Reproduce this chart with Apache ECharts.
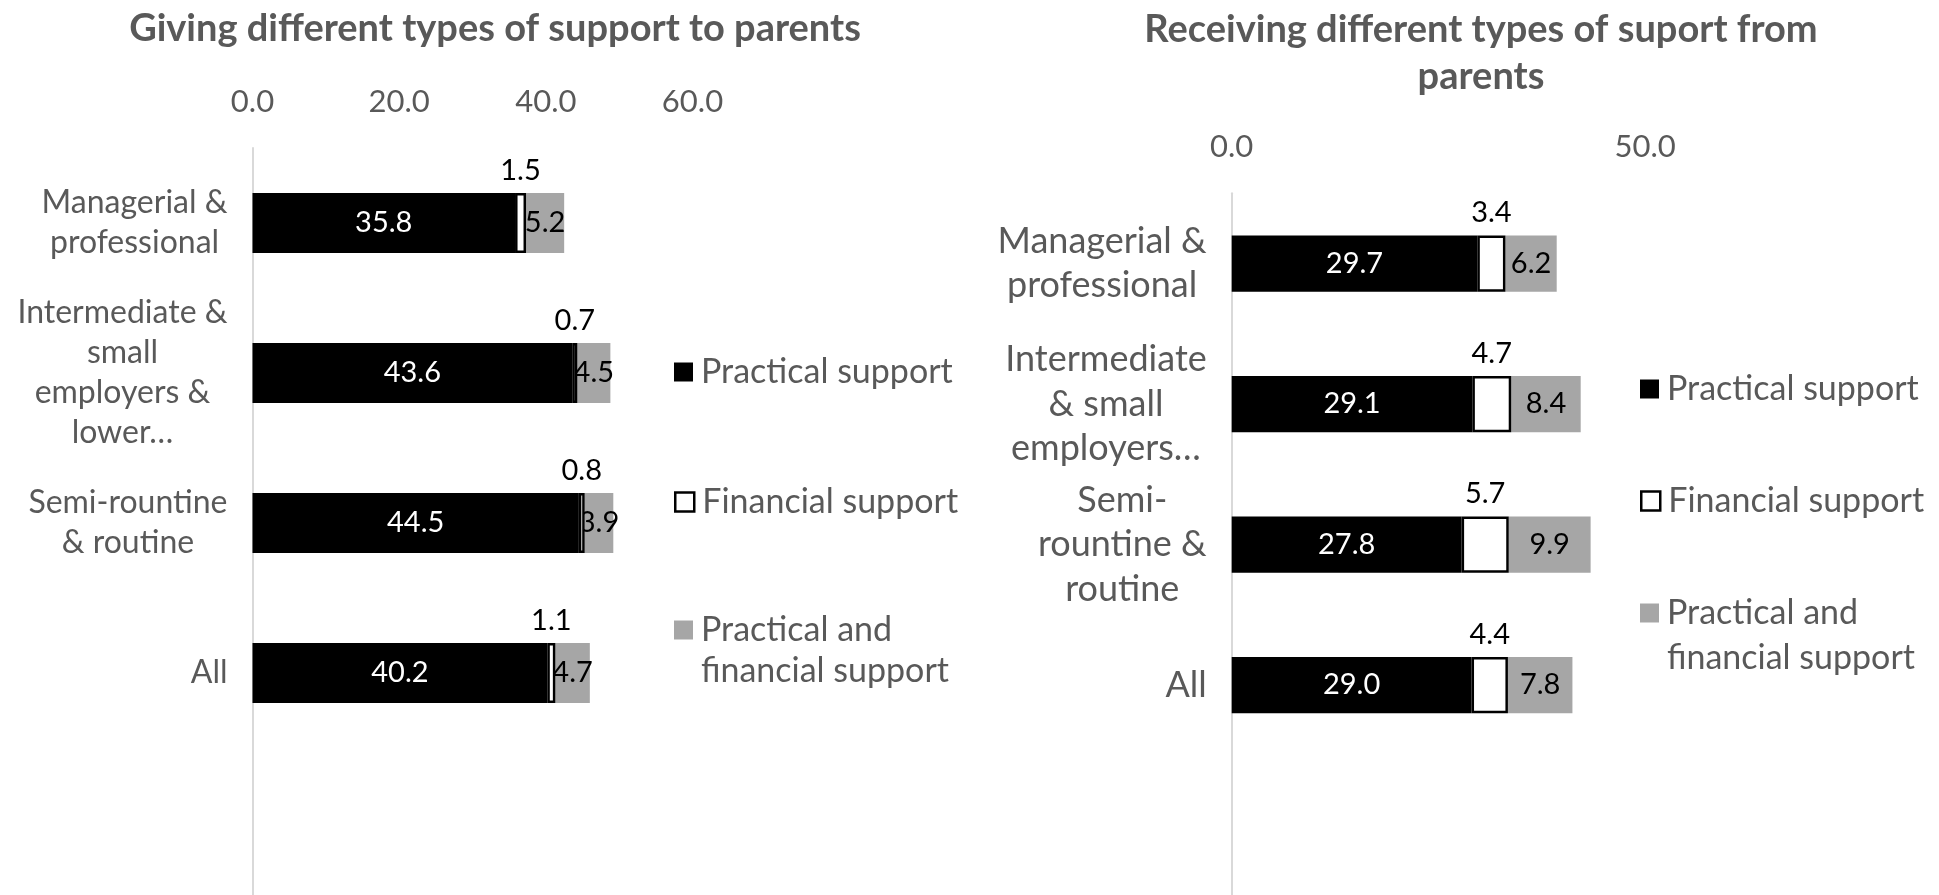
<!DOCTYPE html>
<html>
<head>
<meta charset="utf-8">
<script src="https://cdn.jsdelivr.net/npm/echarts@6/dist/echarts.min.js"></script>
<style>
  html, body { margin: 0; padding: 0; background: #ffffff; }
  #chart { width: 1939px; height: 895px; }
</style>
</head>
<body>
<div id="chart"></div>
<script>
// Giving support to parents, by social class (percent)
const givingCategories = ['Managerial &\nprofessional', 'Intermediate &\nsmall\nemployers &\nlower…', 'Semi-rountine\n& routine', 'All', ''];
const givingPractical = [35.8, 43.6, 44.5, 40.2];
const givingFinancial = [1.5, 0.7, 0.8, 1.1];
const givingBoth = [5.2, 4.5, 3.9, 4.7];
const givingTicks = [0, 20, 40, 60];

// Receiving support from parents, by social class (percent)
const receivingCategories = ['Managerial &\nprofessional', 'Intermediate\n& small\nemployers…', 'Semi-\nrountine &\nroutine', 'All', ''];
const receivingPractical = [29.7, 29.1, 27.8, 29.0];
const receivingFinancial = [3.4, 4.7, 5.7, 4.4];
const receivingBoth = [6.2, 8.4, 9.9, 7.8];
const receivingTicks = [0, 50];
const receivingAxisMax = 60;

const seriesNames = ['Practical support', 'Financial support', 'Practical and financial support'];
const legendTexts = ['Practical support', 'Financial support', 'Practical and\nfinancial support'];

const FONT = 'Lato, "Open Sans", sans-serif';
const GREY_TEXT = '#595959';
const fmt1 = v => Number(v).toFixed(1);

function categoryLabel(lineHeight, fontSize, margin) {
  return {
    interval: 0,
    margin: margin,
    formatter: v => v ? v.split('\n').map(s => '{c|' + s + '}').join('\n') : '',
    rich: {
      c: { align: 'center', fontSize: fontSize, lineHeight: lineHeight, color: GREY_TEXT, fontFamily: FONT }
    }
  };
}

function stackedSeries(idx, practical, financial, both) {
  const common = { type: 'bar', stack: 'support' + idx, xAxisIndex: idx, yAxisIndex: idx, barWidth: '40%' };
  const labelBase = { show: true, fontFamily: FONT, fontSize: 29, formatter: p => fmt1(p.value) };
  return [
    Object.assign({}, common, {
      name: seriesNames[0], data: practical, z: 2,
      itemStyle: { color: '#000000' },
      label: Object.assign({}, labelBase, { position: 'inside', color: '#ffffff' })
    }),
    Object.assign({}, common, {
      name: seriesNames[1], data: financial, z: 4,
      itemStyle: { color: '#ffffff', borderColor: '#000000', borderWidth: 2.5 },
      label: Object.assign({}, labelBase, { position: 'top', distance: 8, color: '#000000' })
    }),
    Object.assign({}, common, {
      name: seriesNames[2], data: both, z: 2,
      itemStyle: { color: '#a6a6a6' },
      label: Object.assign({}, labelBase, { position: 'inside', color: '#000000' })
    })
  ];
}

// One legend per entry so that a wrapped entry keeps its swatch beside the first line
function legendItem(i, left, iconCenterY, lineHeight) {
  const lines = legendTexts[i].split('\n');
  const text = lines.length > 1 ? '\n' + legendTexts[i] : legendTexts[i];
  const boxLines = lines.length > 1 ? lines.length + 1 : 1;
  const styles = [
    { color: '#000000', borderWidth: 0 },
    { color: '#ffffff', borderColor: '#000000', borderWidth: 2.5 },
    { color: '#a6a6a6', borderWidth: 0 }
  ];
  return {
    data: [seriesNames[i]],
    orient: 'vertical',
    left: left,
    top: iconCenterY - boxLines * lineHeight / 2,
    padding: 0,
    icon: 'rect',
    itemWidth: 19,
    itemHeight: 19,
    selectedMode: false,
    itemStyle: styles[i],
    formatter: () => text,
    textStyle: {
      color: GREY_TEXT, fontSize: 34, fontFamily: FONT, lineHeight: lineHeight,
      padding: [0, 0, 0, 3]
    }
  };
}

const chart = echarts.init(document.getElementById('chart'), null, { renderer: 'canvas' });

chart.setOption({
  backgroundColor: '#ffffff',
  animation: false,
  title: [
    {
      text: 'Giving different types of support to parents',
      left: 490, top: 2, textAlign: 'center',
      textStyle: { color: GREY_TEXT, fontSize: 38, fontWeight: 'bold', fontFamily: FONT, lineHeight: 44 }
    },
    {
      text: 'Receiving different types of suport from\nparents',
      left: 1476, top: 1, textAlign: 'center',
      textStyle: { color: GREY_TEXT, fontSize: 38, fontWeight: 'bold', fontFamily: FONT, lineHeight: 47 }
    }
  ],
  legend: [
    legendItem(0, 674, 372, 41),
    legendItem(1, 674, 502, 41),
    legendItem(2, 674, 630, 41),
    legendItem(0, 1640, 389, 45),
    legendItem(1, 1640, 501, 45),
    legendItem(2, 1640, 613, 45)
  ],
  grid: [
    { left: 252.5, top: 148, width: 440, height: 750, containLabel: false, outerBoundsMode: 'none' },
    { left: 1231.7, top: 193.3, width: receivingAxisMax * 8.27, height: 702.5, containLabel: false, outerBoundsMode: 'none' }
  ],
  xAxis: [
    {
      type: 'value', gridIndex: 0, position: 'top',
      min: givingTicks[0], max: givingTicks[givingTicks.length - 1], interval: givingTicks[1] - givingTicks[0],
      axisLine: { show: false }, axisTick: { show: false }, splitLine: { show: false },
      axisLabel: { margin: 31, color: GREY_TEXT, fontSize: 31, fontFamily: FONT, formatter: fmt1 }
    },
    {
      type: 'value', gridIndex: 1, position: 'top',
      min: receivingTicks[0], max: receivingAxisMax, interval: receivingTicks[1] - receivingTicks[0],
      axisLine: { show: false }, axisTick: { show: false }, splitLine: { show: false },
      axisLabel: { margin: 31, color: GREY_TEXT, fontSize: 31, fontFamily: FONT, formatter: fmt1, showMaxLabel: false }
    }
  ],
  yAxis: [
    {
      type: 'category', gridIndex: 0, inverse: true, data: givingCategories,
      axisTick: { show: false },
      axisLine: { show: true, lineStyle: { color: '#d9d9d9', width: 2 } },
      axisLabel: categoryLabel(40, 32, 25)
    },
    {
      type: 'category', gridIndex: 1, inverse: true, data: receivingCategories,
      axisTick: { show: false },
      axisLine: { show: true, lineStyle: { color: '#d9d9d9', width: 2 } },
      axisLabel: categoryLabel(44.5, 36, 25)
    }
  ],
  series: [].concat(
    stackedSeries(0, givingPractical, givingFinancial, givingBoth),
    stackedSeries(1, receivingPractical, receivingFinancial, receivingBoth)
  )
});
</script>
</body>
</html>
